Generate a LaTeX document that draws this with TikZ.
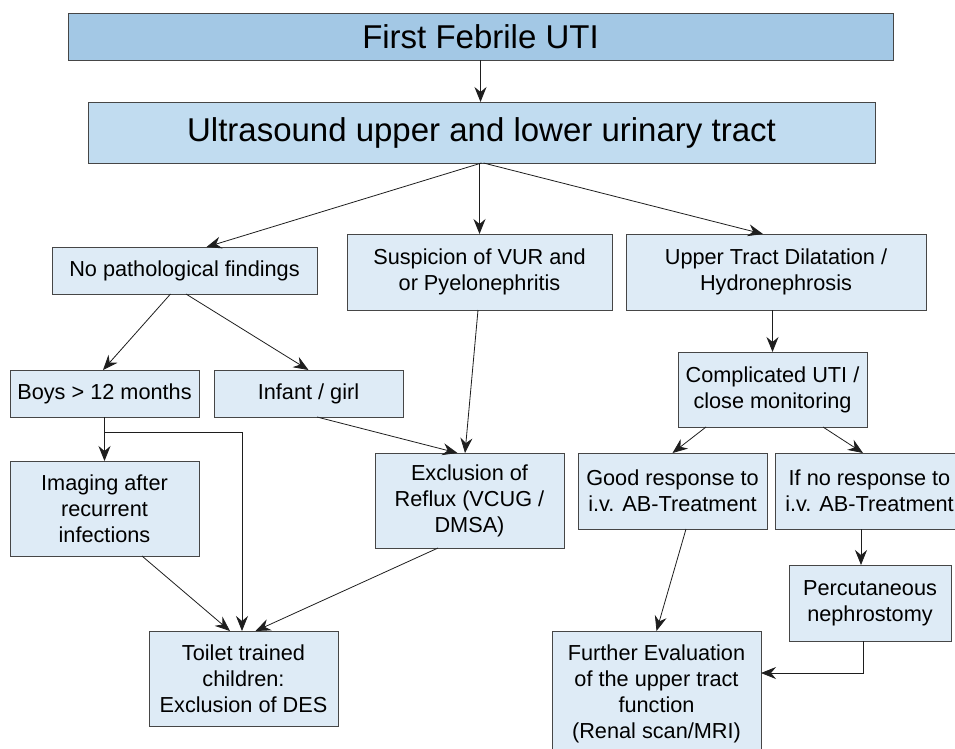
\documentclass[tikz,border=0pt]{standalone}
\usepackage{fontspec}
\setmainfont{Liberation Sans}
\usetikzlibrary{arrows.meta}
\definecolor{topfill}{RGB}{163,200,229}
\definecolor{usfill}{RGB}{193,220,240}
\definecolor{boxfill}{RGB}{222,235,246}
\definecolor{edge}{RGB}{70,70,70}
\definecolor{linec}{RGB}{30,30,30}
\begin{document}
\begin{tikzpicture}[x=1pt,y=-1pt,
  box/.style={draw=edge, line width=0.8pt, fill=boxfill, inner sep=0pt, outer sep=0pt, align=center, font=\fontsize{21.7}{26}\selectfont},
  bigbox/.style={box, font=\fontsize{33}{38}\selectfont},
  arr/.style={draw=linec, line width=0.8pt, -{Stealth[length=15pt,width=12pt,inset=5pt]}},
  ln/.style={draw=linec, line width=0.8pt}
]
\useasboundingbox (0,0) rectangle (955,748);

\node[bigbox, fill=topfill, minimum width=825, minimum height=47] (top) at (480.5,36.5) {First Febrile UTI};
\node[bigbox, fill=usfill, minimum width=787, minimum height=61] (us) at (481.5,132.5) {Ultrasound upper and lower urinary tract};

\node[box, minimum width=265, minimum height=47] (npf) at (184.5,270.5) {No pathological findings};
\node[box, minimum width=265, minimum height=76] (vur) at (479.5,272) {Suspicion of VUR and\\or Pyelonephritis};
\node[box, minimum width=300, minimum height=76] (utd) at (776,272) {Upper Tract Dilatation /\\Hydronephrosis};

\node[box, minimum width=189, minimum height=47] (boys) at (104.5,393.5) {Boys \textgreater{} 12 months};
\node[box, minimum width=189, minimum height=47] (inf) at (308.5,393.5) {Infant / girl};
\node[box, minimum width=189, minimum height=75] (cuti) at (772.5,389.5) {Complicated UTI /\\close monitoring};

\node[box, minimum width=189, minimum height=95] (img) at (104.5,508.5) {Imaging after\\recurrent\\infections};
\node[box, minimum width=189, minimum height=95] (excl) at (469.5,500.5) {Exclusion of\\Reflux (VCUG /\\DMSA)};
\node[box, minimum width=189, minimum height=76] (good) at (672.5,491) {Good response to\\i.v. AB-Treatment};
\node[box, minimum width=189, minimum height=76] (nores) at (869.5,491) {If no response to\\i.v. AB-Treatment};
\node[box, minimum width=162, minimum height=76] (perc) at (870,603) {Percutaneous\\nephrostomy};

\node[box, minimum width=189, minimum height=95] (toilet) at (243.5,678.5) {Toilet trained\\children:\\Exclusion of DES};
\node[box, minimum width=209, minimum height=126] (further) at (656.5,694) {Further Evaluation\\of the upper tract\\function\\(Renal scan/MRI)};

\draw[arr] (top.south) -- (top.south |- us.north);
\draw[arr] (us.south) -- ([xshift=22pt]npf.north);
\draw[arr] (vur.north |- us.south) -- (vur.north);
\draw[arr] ([xshift=2pt]us.south) -- ([xshift=-13pt]utd.north);

\draw[arr] ([xshift=-14pt]npf.south) -- ([xshift=-1.5pt]boys.north);
\draw[arr] ([xshift=1.5pt]npf.south) -- (inf.north);

\draw[arr] (boys.south) -- (img.north);
\coordinate (br) at ([yshift=-15pt]boys.south);
\draw[arr] (br) -| ([xshift=-1.5pt]toilet.north);

\draw[arr] ([xshift=37.5pt]img.south) -- ([xshift=-13.5pt]toilet.north);
\draw[arr] ([xshift=-31.5pt]excl.south) -- ([xshift=12pt]toilet.north);
\draw[arr] ([xshift=8.5pt]inf.south) -- ([xshift=-12pt]excl.north);
\draw[arr] ([xshift=-1.5pt]vur.south) -- ([xshift=-4.5pt]excl.north);

\draw[arr] (cuti.north |- utd.south) -- (cuti.north);
\draw[arr] ([xshift=-66.5pt]cuti.south) -- (good.north);
\draw[arr] ([xshift=50.5pt]cuti.south) -- ([xshift=-6.5pt]nores.north);
\draw[arr] ([xshift=-8.5pt]nores.south) -- ([xshift=-8.5pt]nores.south |- perc.north);
\draw[arr] ([xshift=13.5pt]good.south) -- (further.north);
\draw[arr] ([xshift=-7pt]perc.south) |- ([yshift=21pt]further.east);
\end{tikzpicture}
\end{document}
